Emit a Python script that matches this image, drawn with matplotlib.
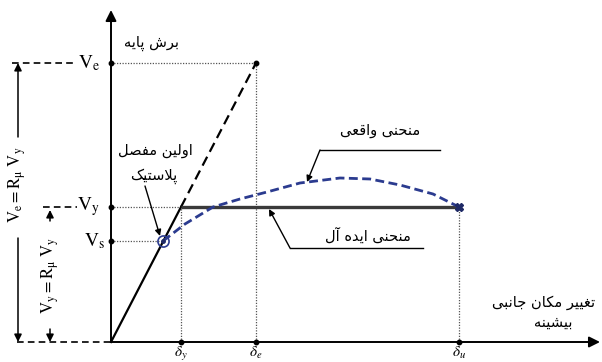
import matplotlib
matplotlib.use("Agg")
import matplotlib.pyplot as plt

# ---- data (displacement and base shear, arbitrary units) ----
V_e = 279
V_y = 135
V_s = 101
delta_y = 70
delta_e = 145
delta_u = 348
d_s = 52

# actual pushover curve
real_d = [52, 74, 102, 129, 156, 189, 229, 259, 289, 322, 348]
real_v = [101, 118, 135, 143, 150, 159, 164, 163, 157, 148, 135]

# ---- Persian text shaping (presentation forms, right-to-left) ----
FORMS = {
    'ا': ('\uFE8D', '\uFE8E', None, None),
    'آ': ('\uFE81', '\uFE82', None, None),
    'ب': ('\uFE8F', '\uFE90', '\uFE91', '\uFE92'),
    'پ': ('\uFB56', '\uFB57', '\uFB58', '\uFB59'),
    'ت': ('\uFE95', '\uFE96', '\uFE97', '\uFE98'),
    'ج': ('\uFE9D', '\uFE9E', '\uFE9F', '\uFEA0'),
    'ح': ('\uFEA1', '\uFEA2', '\uFEA3', '\uFEA4'),
    'د': ('\uFEA9', '\uFEAA', None, None),
    'ر': ('\uFEAD', '\uFEAE', None, None),
    'س': ('\uFEB1', '\uFEB2', '\uFEB3', '\uFEB4'),
    'ش': ('\uFEB5', '\uFEB6', '\uFEB7', '\uFEB8'),
    'ص': ('\uFEB9', '\uFEBA', '\uFEBB', '\uFEBC'),
    'ع': ('\uFEC9', '\uFECA', '\uFECB', '\uFECC'),
    'غ': ('\uFECD', '\uFECE', '\uFECF', '\uFED0'),
    'ف': ('\uFED1', '\uFED2', '\uFED3', '\uFED4'),
    'ق': ('\uFED5', '\uFED6', '\uFED7', '\uFED8'),
    'ک': ('\uFB8E', '\uFB8F', '\uFB90', '\uFB91'),
    'ل': ('\uFEDD', '\uFEDE', '\uFEDF', '\uFEE0'),
    'م': ('\uFEE1', '\uFEE2', '\uFEE3', '\uFEE4'),
    'ن': ('\uFEE5', '\uFEE6', '\uFEE7', '\uFEE8'),
    'ه': ('\uFEE9', '\uFEEA', '\uFEEB', '\uFEEC'),
    'و': ('\uFEED', '\uFEEE', None, None),
    'ی': ('\uFBFC', '\uFBFD', '\uFBFE', '\uFBFF'),
}


def fa(text):
    def dual(c):
        return c in FORMS and FORMS[c][2] is not None
    out = []
    prev_joins = False
    i, n = 0, len(text)
    while i < n:
        c = text[i]
        if c not in FORMS:
            out.append(c)
            prev_joins = False
            i += 1
            continue
        if c == 'ل' and i + 1 < n and text[i + 1] in ('ا', 'آ'):
            if text[i + 1] == 'ا':
                out.append('\uFEFC' if prev_joins else '\uFEFB')
            else:
                out.append('\uFEF6' if prev_joins else '\uFEF5')
            prev_joins = False
            i += 2
            continue
        nxt = text[i + 1] if i + 1 < n else None
        joins_next = dual(c) and nxt in FORMS
        iso, fin, ini, med = FORMS[c]
        if prev_joins and joins_next:
            g = med
        elif prev_joins:
            g = fin
        elif joins_next:
            g = ini
        else:
            g = iso
        out.append(g)
        prev_joins = joins_next
        i += 1
    return ''.join(reversed(out))


plt.rcParams['mathtext.fontset'] = 'stix'
FA = dict(family='DejaVu Sans', fontsize=10.5, color='black')

fig = plt.figure(figsize=(6.02, 3.62), dpi=100)
ax = fig.add_axes([0, 0, 1, 1])
ax.set_xlim(-111, 491)
ax.set_ylim(-20, 342)
ax.axis('off')

navy = '#2b3b8f'
dot = dict(color='#555555', lw=0.9, ls=(0, (1, 1.2)))

# axes with arrowheads
arrow = dict(arrowstyle='-|>', color='black', lw=1.4, mutation_scale=16,
             shrinkA=0, shrinkB=0)
ax.annotate('', xy=(0, 332), xytext=(0, 0), arrowprops=arrow)
ax.annotate('', xy=(489, 0), xytext=(0, 0), arrowprops=arrow)

# dotted guide lines
ax.plot([0, delta_e], [V_e, V_e], **dot)
ax.plot([0, delta_y], [V_y, V_y], **dot)
ax.plot([0, d_s], [V_s, V_s], **dot)
ax.plot([delta_y, delta_y], [0, V_y], **dot)
ax.plot([delta_e, delta_e], [0, V_e], **dot)
ax.plot([delta_u, delta_u], [0, V_y], **dot)

# elastic response
ax.plot([0, delta_y], [0, V_y], color='black', lw=1.6)
ax.plot([delta_y, delta_e], [V_y, V_e], color='black', lw=1.6, dashes=(4.5, 2.5))

# idealised bilinear curve
ax.plot([delta_y, delta_u], [V_y, V_y], color='#3a3a3a', lw=2.4, solid_capstyle='butt')

# actual curve
ax.plot(real_d, real_v, color=navy, lw=2.0, dashes=(3.2, 1.6))
ax.plot([real_d[-1]], [real_v[-1]], marker='X', color='#1f2a66', ms=6)
ax.plot([d_s], [V_s], 'o', mfc='none', mec=navy, ms=8, mew=1.2)
ax.plot([d_s], [V_s], 'o', color='#1f2a66', ms=2.5)

# markers on axes
ax.plot([0, 0, 0, delta_e], [V_e, V_y, V_s, V_e], 'o', color='black', ms=3.2)
ax.plot([delta_y, delta_e, delta_u], [0, 0, 0], 'o', color='black', ms=3.2)

# left-hand dashed levels
ax.plot([-99, -38], [V_e, V_e], color='black', lw=1.2, dashes=(4, 2.5))
ax.plot([-68, -34], [V_y, V_y], color='black', lw=1.2, dashes=(4, 2.5))
ax.plot([-94, 0], [0, 0], color='black', lw=1.2, dashes=(4, 2.5))

# dimension arrows
dim = dict(arrowstyle='-|>', color='black', lw=1.1, mutation_scale=11,
           shrinkA=0, shrinkB=0)
ax.annotate('', xy=(-93, V_e), xytext=(-93, 205), arrowprops=dim)
ax.annotate('', xy=(-93, 0), xytext=(-93, 104), arrowprops=dim)
ax.text(-94, 157, r'$\mathrm{V_e = R_\mu\ V_y}$', rotation=90, fontsize=12,
        ha='center', va='center')
ax.annotate('', xy=(-61, V_y - 3), xytext=(-61, 121), arrowprops=dim)
ax.annotate('', xy=(-61, 0), xytext=(-61, 13), arrowprops=dim)
ax.text(-61, 67, r'$\mathrm{V_y = R_\mu\ V_y}$', rotation=90, fontsize=12,
        ha='center', va='center')

# level labels
ax.text(-11, V_e, r'$\mathrm{V_e}$', fontsize=14, ha='right', va='center')
ax.text(-11, V_y, r'$\mathrm{V_y}$', fontsize=14, ha='right', va='center')
ax.text(-6, V_s, r'$\mathrm{V_s}$', fontsize=14, ha='right', va='center')

# displacement labels
for x, lab in [(delta_y, r'$\delta_y$'), (delta_e, r'$\delta_e$'), (delta_u, r'$\delta_u$')]:
    ax.text(x, -3, lab, fontsize=11, ha='center', va='top')

# Persian annotations
ax.text(41, 299, fa('برش پایه'), ha='center', va='center', **FA)
ax.text(44, 192, fa('اولین مفصل'), ha='center', va='center', **FA)
ax.text(43, 166, fa('پلاستیک'), ha='center', va='center', **FA)
ax.text(269, 211, fa('منحنی واقعی'), ha='center', va='center', **FA)
ax.text(257, 106, fa('منحنی ایده آل'), ha='center', va='center', **FA)
ax.text(433, 40, fa('تغییر مکان جانبی'), ha='center', va='center', **FA)
ax.text(442, 20, fa('بیشینه'), ha='center', va='center', **FA)

lead = dict(arrowstyle='-|>', color='black', lw=1.0, mutation_scale=9,
            shrinkA=0, shrinkB=0)
ax.annotate('', xy=(49, 106), xytext=(34, 156), arrowprops=lead)

ax.plot([209, 329], [192, 192], color='black', lw=1.0)
ax.annotate('', xy=(196, 160), xytext=(209, 192), arrowprops=lead)

ax.plot([179, 312], [94, 94], color='black', lw=1.0)
ax.annotate('', xy=(158, 133), xytext=(179, 94), arrowprops=lead)

fig.savefig('out.png', dpi=100)
